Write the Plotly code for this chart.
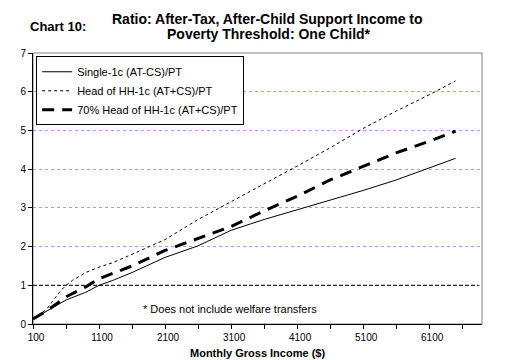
import plotly.graph_objects as go

# ---- data ----
income_single = [100, 300, 600, 900, 1100, 1300, 1600, 2100, 2600, 3100, 3600, 4100, 4600, 5100, 5600, 6100, 6500]
single_ratio = [0.13, 0.32, 0.62, 0.82, 1.00, 1.12, 1.33, 1.72, 2.02, 2.42, 2.70, 2.95, 3.19, 3.45, 3.72, 4.02, 4.28]

income_head = [100, 300, 500, 600, 700, 900, 1100, 1300, 1600, 2100, 2600, 3100, 3600, 4100, 4600, 5100, 5600, 6100, 6500]
head_ratio = [0.13, 0.37, 0.82, 1.00, 1.13, 1.33, 1.47, 1.58, 1.80, 2.18, 2.70, 3.15, 3.62, 4.08, 4.55, 5.05, 5.50, 5.92, 6.28]

income_70 = [100, 300, 600, 900, 1100, 1300, 1600, 2100, 2600, 3100, 3600, 4100, 4600, 5100, 5600, 6100, 6500]
head70_ratio = [0.13, 0.33, 0.70, 0.96, 1.17, 1.30, 1.50, 1.90, 2.22, 2.52, 2.92, 3.30, 3.72, 4.08, 4.42, 4.72, 4.98]

poverty_x = [100, 6850]
poverty_y = [1, 1]

tick_vals = list(range(100, 6601, 500))
tick_text = [str(v) if (v - 100) % 1000 == 0 else "" for v in tick_vals]

FONT = "Arial, Liberation Sans, sans-serif"

fig = go.Figure()
fig.add_trace(go.Scatter(x=income_single, y=single_ratio, mode="lines",
                         name="Single-1c (AT-CS)/PT",
                         line=dict(color="black", width=1)))
fig.add_trace(go.Scatter(x=income_head, y=head_ratio, mode="lines",
                         name="Head of HH-1c (AT+CS)/PT",
                         line=dict(color="black", width=1, dash="3px,3px")))
fig.add_trace(go.Scatter(x=income_70, y=head70_ratio, mode="lines",
                         name="70% Head of HH-1c (AT+CS)/PT",
                         line=dict(color="black", width=3, dash="12px,8px")))
fig.add_trace(go.Scatter(x=poverty_x, y=poverty_y, mode="lines", showlegend=False,
                         line=dict(color="black", width=1, dash="4px,2px"), hoverinfo="skip"))

fig.update_layout(
    width=523, height=360,
    margin=dict(l=15, r=49, t=45, b=44),
    paper_bgcolor="white", plot_bgcolor="white",
    font=dict(family=FONT, size=10, color="black"),
    showlegend=True,
    legend=dict(x=0.007, y=0.988, xanchor="left", yanchor="top",
                bgcolor="white", bordercolor="black", borderwidth=1,
                font=dict(family=FONT, size=11, color="black"),
                tracegroupgap=0, itemwidth=30),
    xaxis=dict(range=[100, 6900], tickmode="array", tickvals=tick_vals, ticktext=tick_text,
               showgrid=False, zeroline=False, showline=True, linecolor="black", linewidth=1,
               ticks="outside", ticklen=4, tickcolor="black", ticklabelshift=3,
               tickfont=dict(size=10)),
    yaxis=dict(range=[0, 7], dtick=1, tick0=0,
               showgrid=True, gridcolor="#c08cff", griddash="dot", gridwidth=1,
               zeroline=False, showline=True, linecolor="black", linewidth=1,
               ticks="outside", ticklen=4, tickcolor="black",
               tickfont=dict(size=10)),
    shapes=[dict(type="rect", xref="x domain", yref="y domain", x0=0, x1=1, y0=0, y1=1,
                 line=dict(color="#808080", width=1), layer="below")],
    annotations=[
        dict(text="<b>Chart 10:</b>", xref="paper", yref="paper", x=-0.011, y=1.096,
             xanchor="left", yanchor="middle", showarrow=False,
             font=dict(family=FONT, size=13, color="black")),
        dict(text="<b>Ratio: After-Tax, After-Child Support Income to</b>",
             xref="paper", yref="paper", x=0.522, y=1.1255, xanchor="center", yanchor="middle",
             showarrow=False, font=dict(family=FONT, size=14, color="black")),
        dict(text="<b>Poverty Threshold: One Child*</b>",
             xref="paper", yref="paper", x=0.525, y=1.070, xanchor="center", yanchor="middle",
             showarrow=False, font=dict(family=FONT, size=14, color="black")),
        dict(text="* Does not include welfare transfers", xref="paper", yref="paper",
             x=0.24, y=0.055, xanchor="left", yanchor="middle", showarrow=False,
             font=dict(family=FONT, size=11, color="black")),
        dict(text="<b>Monthly Gross Income ($)</b>", xref="paper", yref="paper",
             x=0.5, y=-0.106, xanchor="center", yanchor="middle", showarrow=False,
             font=dict(family=FONT, size=11, color="black")),
    ],
)

fig.write_html("out.html")
